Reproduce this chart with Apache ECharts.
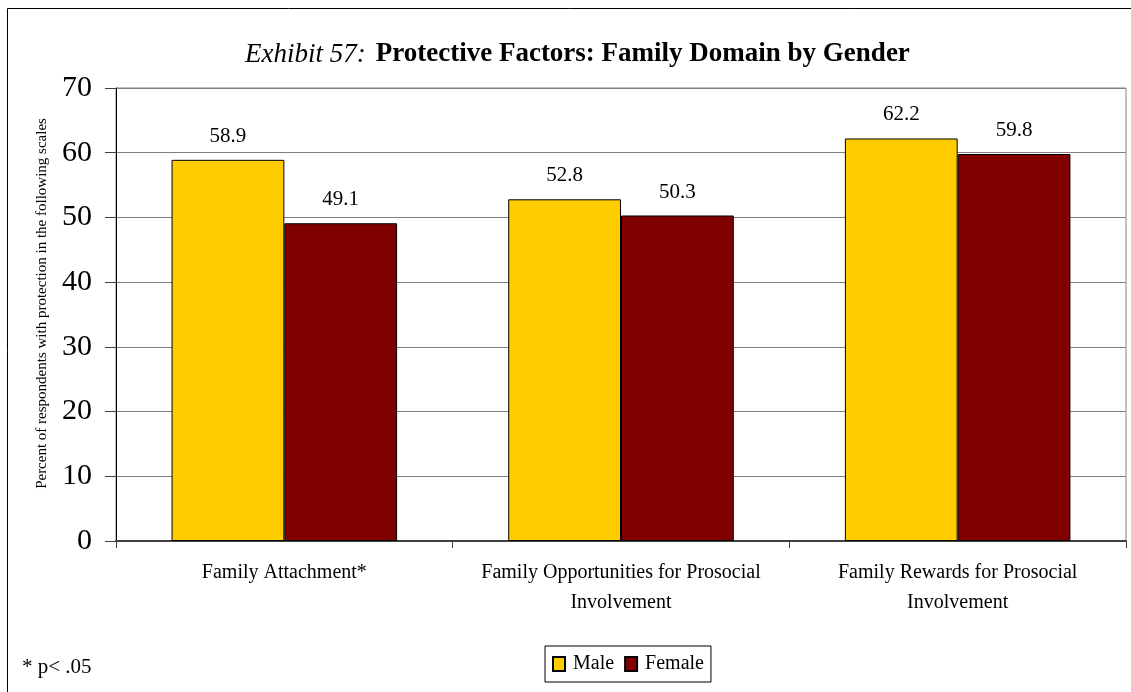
<!DOCTYPE html>
<html>
<head>
<meta charset="utf-8">
<script src="https://cdn.jsdelivr.net/npm/echarts@6/dist/echarts.min.js"></script>
<style>
  html, body { margin: 0; padding: 0; background: #fff; }
  #chart { width: 1131px; height: 692px; }
</style>
</head>
<body>
<div id="chart"></div>
<script>
// Protective factors in the family domain, by gender (percent)
const categories = [
  'Family Attachment*',
  'Family Opportunities for Prosocial\nInvolvement',
  'Family Rewards for Prosocial\nInvolvement'
];
const maleValues = [58.9, 52.8, 62.2];
const femaleValues = [49.1, 50.3, 59.8];
const yTicks = [0, 10, 20, 30, 40, 50, 60, 70];

const serif = '"Liberation Serif", "Times New Roman", serif';

const chart = echarts.init(document.getElementById('chart'), null, { renderer: 'canvas' });

const valueLabel = {
  show: true,
  position: 'top',
  distance: 12,
  fontFamily: serif,
  fontSize: 21,
  color: '#000',
  backgroundColor: '#fff',
  padding: [1, 4, 1, 4],
  formatter: p => p.value.toFixed(1)
};

chart.setOption({
  animation: false,
  backgroundColor: '#fff',
  title: {
    left: 240,
    top: 36,
    text: '{i|Exhibit 57:}  {b|Protective Factors: Family Domain by Gender}',
    textStyle: {
      rich: {
        i: { fontFamily: serif, fontSize: 27, fontStyle: 'italic', fontWeight: 'normal', color: '#000' },
        b: { fontFamily: serif, fontSize: 27, fontWeight: 'bold', color: '#000' }
      }
    }
  },
  graphic: [
    {
      type: 'rect',
      shape: { x: 7.5, y: 8.5, width: 1300, height: 1000 },
      style: { fill: null, stroke: '#000', lineWidth: 1 },
      silent: true
    },
    {
      type: 'text',
      left: 22,
      top: 657,
      style: { text: '* p< .05', fontFamily: serif, fontSize: 21, fill: '#000' }
    }
  ],
  legend: {
    data: ['Male', 'Female'],
    left: 545,
    top: 646,
    itemWidth: 12,
    itemHeight: 14,
    itemGap: 10,
    padding: [8, 7, 8, 7],
    borderColor: '#000',
    borderWidth: 1,
    textStyle: { fontFamily: serif, fontSize: 20, color: '#000', padding: [0, 0, 0, 3] },
    icon: 'rect'
  },
  grid: {
    left: 116,
    right: 5,
    top: 88,
    bottom: 151,
    show: true,
    borderColor: '#808080',
    borderWidth: 1
  },
  xAxis: {
    type: 'category',
    data: categories,
    axisLine: { show: true, lineStyle: { color: '#404040', width: 2 } },
    axisTick: { show: true, interval: 0, alignWithLabel: false, length: 7, lineStyle: { color: '#404040' } },
    axisLabel: {
      interval: 0,
      fontFamily: serif,
      fontSize: 20,
      color: '#000',
      margin: 17,
      lineHeight: 30
    }
  },
  yAxis: {
    type: 'value',
    min: yTicks[0],
    max: yTicks[yTicks.length - 1],
    interval: 10,
    name: 'Percent of respondents with protection in the following scales',
    nameLocation: 'middle',
    nameGap: 66,
    nameTextStyle: { fontFamily: serif, fontSize: 15, color: '#000', padding: [0, 0, 0, 22] },
    axisLine: { show: true, lineStyle: { color: '#000', width: 1 } },
    axisTick: { show: true, length: 11, lineStyle: { color: '#404040' } },
    axisLabel: { fontFamily: serif, fontSize: 30, color: '#000', margin: 24 },
    splitLine: { show: true, lineStyle: { color: '#808080', width: 1 } }
  },
  series: [
    {
      name: 'Male',
      type: 'bar',
      data: maleValues,
      barGap: '0%',
      barCategoryGap: '33%',
      itemStyle: { color: '#FFCC00', borderColor: '#000', borderWidth: 1 },
      label: valueLabel
    },
    {
      name: 'Female',
      type: 'bar',
      data: femaleValues,
      itemStyle: { color: '#800000', borderColor: '#000', borderWidth: 1 },
      label: valueLabel
    }
  ]
});
</script>
</body>
</html>
